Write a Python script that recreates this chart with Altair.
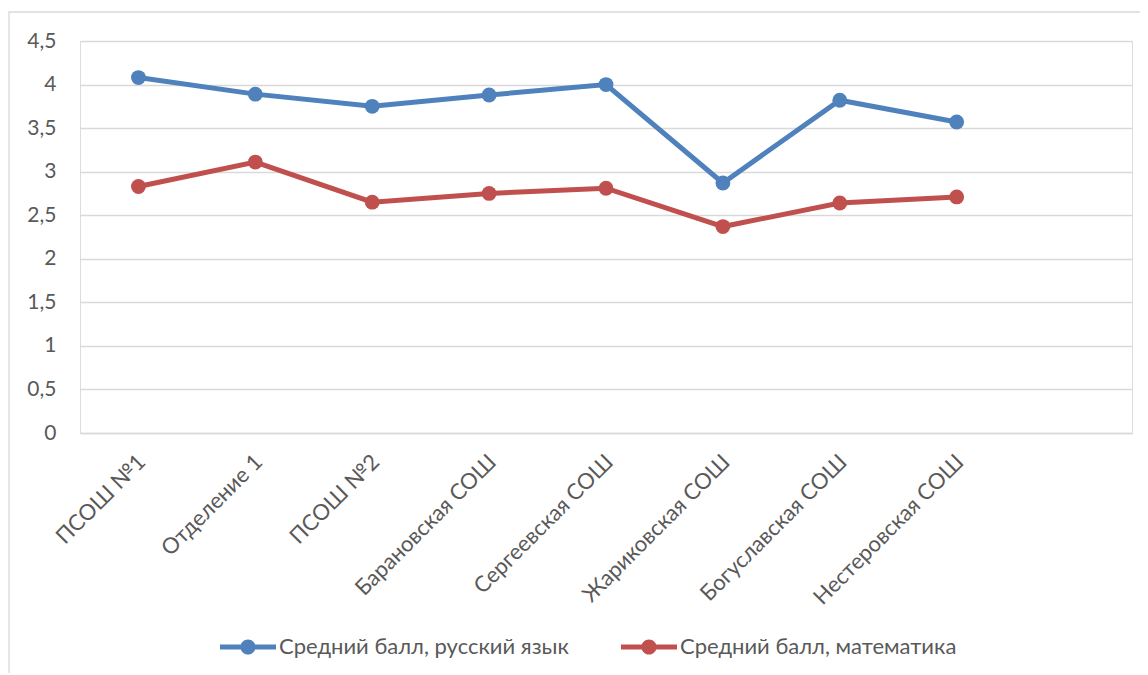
import altair as alt
import pandas as pd

categories = ["ПСОШ №1", "Отделение 1", "ПСОШ №2", "Барановская СОШ",
              "Сергеевская СОШ", "Жариковская СОШ", "Богуславская СОШ",
              "Нестеровская СОШ"]
russian = [4.08, 3.89, 3.75, 3.88, 4.00, 2.87, 3.82, 3.57]
math = [2.83, 3.11, 2.65, 2.75, 2.81, 2.37, 2.64, 2.71]
series_names = ["Средний балл, русский язык", "Средний балл, математика"]
colors = ["#4f81bd", "#c0504d"]
y_ticks = [0, 0.5, 1, 1.5, 2, 2.5, 3, 3.5, 4, 4.5]

rows = []
for c, r, m in zip(categories, russian, math):
    rows.append({"cat": c, "series": series_names[0], "value": r})
    rows.append({"cat": c, "series": series_names[1], "value": m})
df = pd.DataFrame(rows)

x_domain = categories + [" "]
FONT = "Lato"
TXT = "#595959"

sym = ("M-1,-0.09H1V0.09H-1Z "
       "M0.27,0A0.27,0.27 0 1,1 -0.27,0A0.27,0.27 0 1,1 0.27,0Z")

x_enc = alt.X("cat:N", sort=x_domain,
              scale=alt.Scale(domain=x_domain, padding=0.5),
              axis=alt.Axis(title=None, labelAngle=-45, labelAlign="right",
                            labelBaseline="middle", labelPadding=25,
                            labelOffset=3, ticks=False, domain=True,
                            domainColor="#d9d9d9", domainWidth=1.3,
                            labelFont=FONT, labelFontSize=22, labelLimit=400,
                            labelColor=TXT, grid=False))
y_enc = alt.Y("value:Q",
              scale=alt.Scale(domain=[0, 4.5], nice=False),
              axis=alt.Axis(title=None, values=y_ticks, ticks=False,
                            domain=False, grid=True, gridColor="#d9d9d9",
                            gridWidth=1.3, labelFont=FONT, labelFontSize=21,
                            labelColor=TXT, labelPadding=24,
                            labelExpr="replace(format(datum.value, ''), '.', ',')"))

legend = alt.Legend(title=None, orient="none", legendX=140, legendY=578,
                    direction="horizontal", symbolType=sym, symbolSize=3136,
                    symbolStrokeWidth=0, symbolOpacity=1,
                    labelFont=FONT, labelFontSize=22, labelColor=TXT,
                    labelOffset=3, columnPadding=52, labelLimit=400)

color_enc = alt.Color("series:N", sort=series_names,
                      scale=alt.Scale(domain=series_names, range=colors),
                      legend=legend)

frame = alt.Chart(pd.DataFrame({"a": [0]})).mark_rect(
    fill=None, stroke="#d9d9d9", strokeWidth=1.3, clip=False
).encode(x=alt.value(-71), x2=alt.value(1100),
         y=alt.value(-29), y2=alt.value(700))

lines = alt.Chart(df).mark_line(strokeWidth=5).encode(
    x=x_enc, y=y_enc, color=color_enc,
)

points = alt.Chart(df).mark_point(filled=True, size=220, opacity=1).encode(
    x=x_enc, y=y_enc, color=color_enc,
)

chart = alt.layer(frame, lines, points).properties(
    width=1052, height=392,
    autosize=alt.AutoSizeParams(type="none"),
    padding={"left": 72, "top": 33, "right": 8, "bottom": 240},
).configure_view(stroke=None).configure(background="white")

chart.save("out.html", embed_options={"renderer": "svg", "actions": False})
